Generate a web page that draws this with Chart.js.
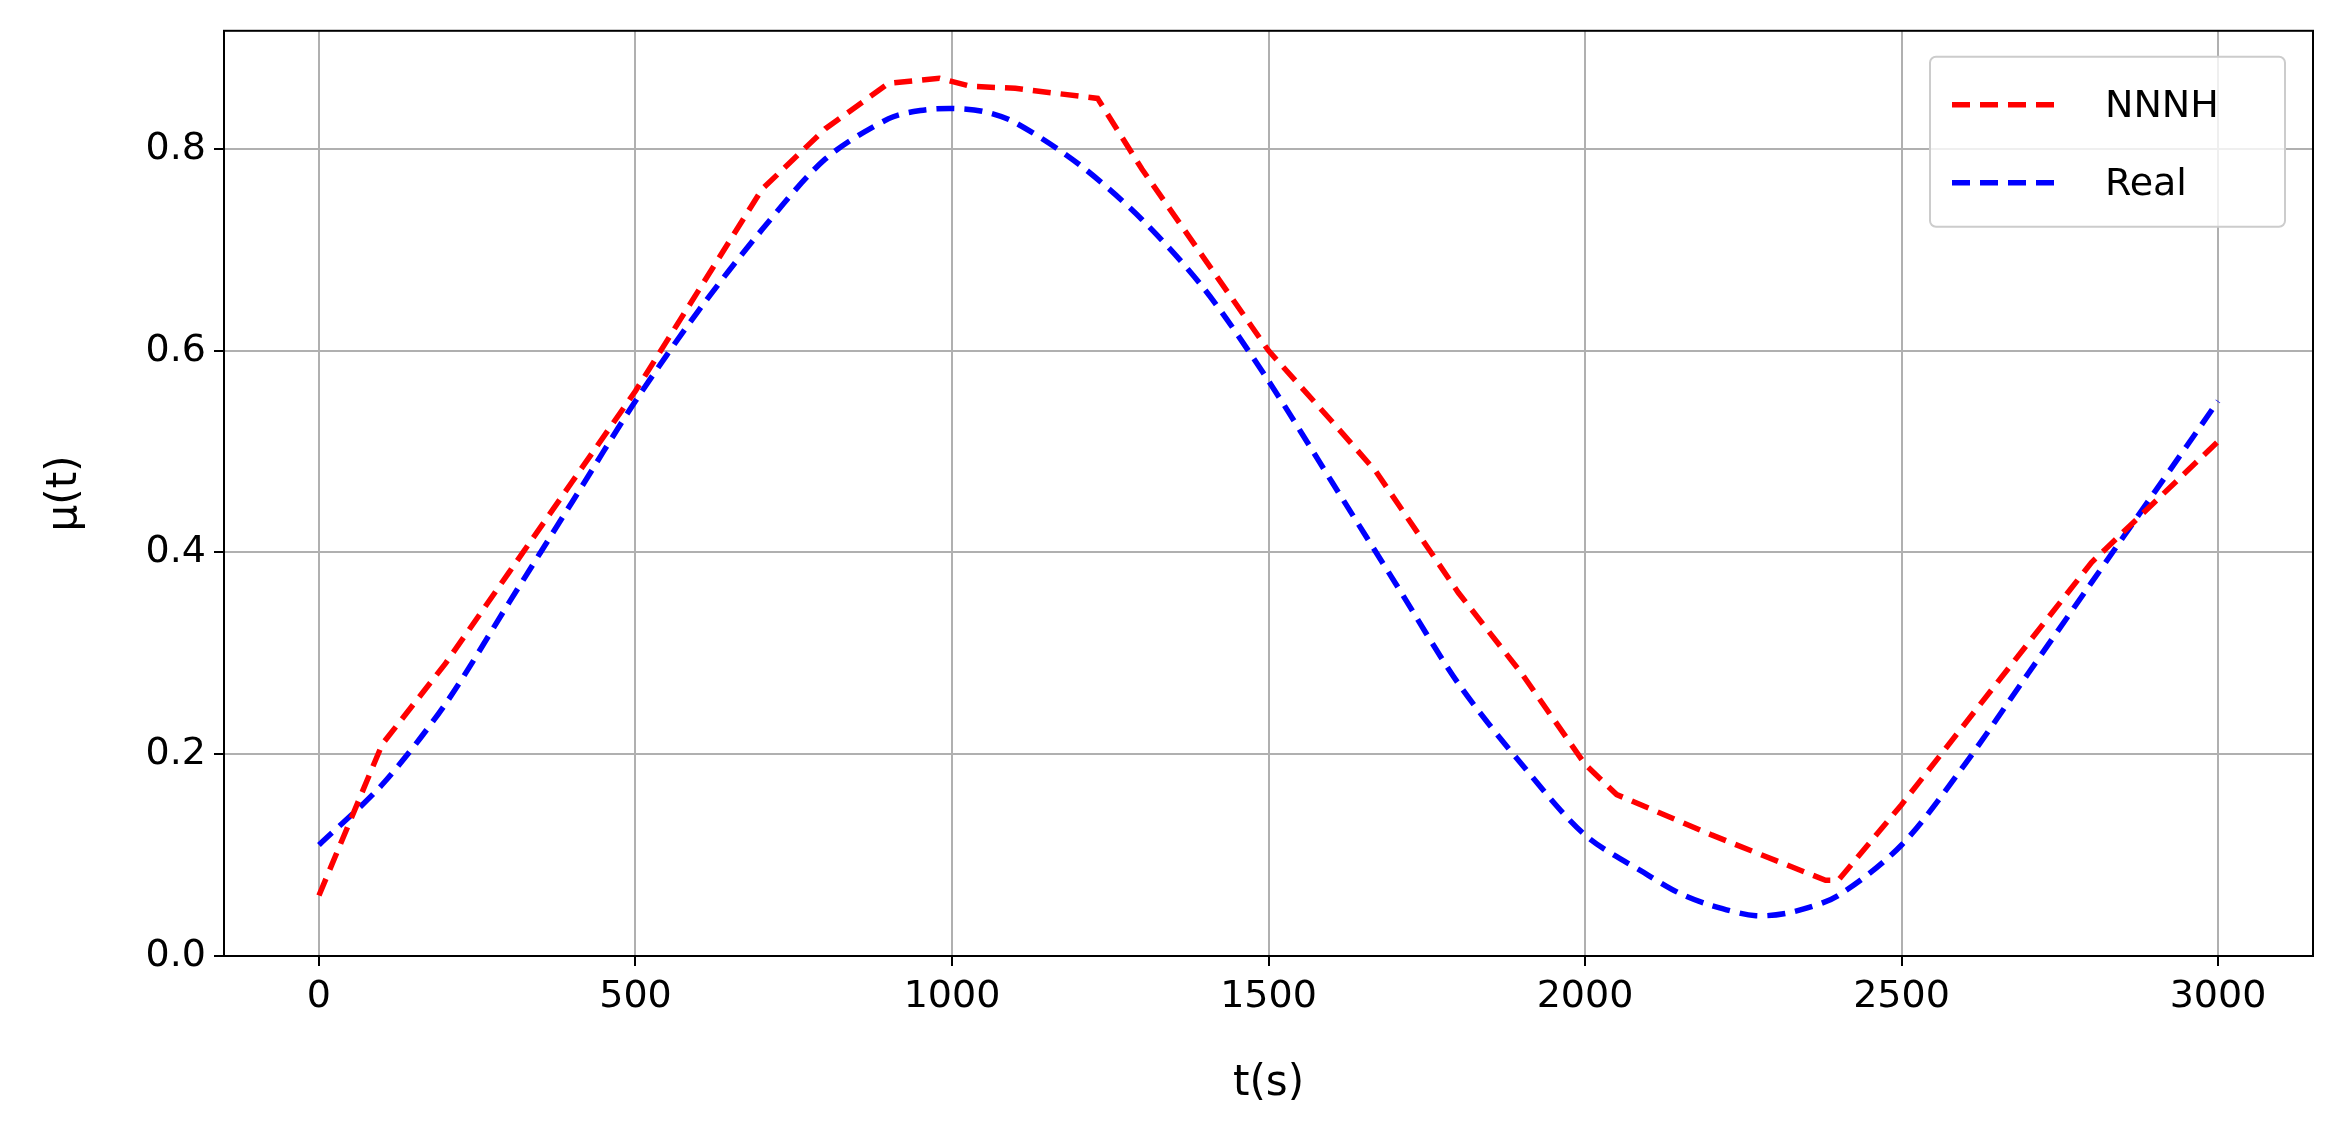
<!DOCTYPE html>
<html><head><meta charset="utf-8">
<script src="https://cdn.jsdelivr.net/npm/chart.js@4/dist/chart.umd.min.js"></script>
<style>body{margin:0;background:#fff}canvas{display:block}</style></head>
<body><canvas id="c" width="2343" height="1143"></canvas>
<script>
const realX = [0,100,200,300,400,500,600,700,800,900,950,1000,1050,1100,1200,1300,1400,1500,1600,1700,1800,1900,2000,2100,2150,2200,2270,2330,2400,2500,2600,2700,2800,2900,3000];
const realY = [0.11,0.17,0.25,0.35,0.45,0.55,0.64,0.72,0.79,0.83,0.838,0.84,0.837,0.826,0.785,0.73,0.66,0.57,0.47,0.37,0.27,0.19,0.12,0.08,0.062,0.05,0.04,0.044,0.06,0.11,0.19,0.28,0.37,0.46,0.55];
const nnnhX = [0,100,200,300,400,500,600,700,800,900,980,1030,1100,1230,1300,1400,1500,1600,1670,1800,1900,2000,2050,2200,2380,2400,2500,2600,2700,2800,2900,3000];
const nnnhY = [0.06,0.21,0.29,0.38,0.47,0.56,0.66,0.76,0.82,0.865,0.87,0.862,0.86,0.85,0.78,0.69,0.60,0.53,0.48,0.36,0.28,0.19,0.16,0.12,0.075,0.075,0.15,0.23,0.31,0.39,0.45,0.51];
const xTicks = [0,500,1000,1500,2000,2500,3000];
const yTicks = [0,0.2,0.4,0.6,0.8];
const labels = ['NNNH','Real'];

const pts = (xs,ys)=>xs.map((x,i)=>({x,y:ys[i]}));
const F = 'DejaVu Sans';
const frame = {id:'frame',afterDraw(c){const a=c.chartArea,x=c.ctx;x.save();x.strokeStyle='#000';x.lineWidth=2;x.strokeRect(a.left,a.top,a.right-a.left,a.bottom-a.top);
 const w=355,h=170,L=a.right-w-28,T=a.top+26;
 x.fillStyle='rgba(255,255,255,0.8)';x.strokeStyle='#ccc';x.lineWidth=2;x.beginPath();x.roundRect(L,T,w,h,6);x.fill();x.stroke();
 c.data.datasets.forEach((d,i)=>{const y=T+48+i*78;x.strokeStyle=d.borderColor;x.lineWidth=5.5;x.setLineDash([18,10]);x.beginPath();x.moveTo(L+22,y);x.lineTo(L+126,y);x.stroke();x.setLineDash([]);
 x.fillStyle='#000';x.font='38px "'+F+'"';x.textBaseline='middle';x.fillText(d.label,L+175,y+2);});
 x.restore();}};
new Chart(document.getElementById('c'),{type:'line',
 data:{datasets:[
  {label:labels[0],data:pts(nnnhX,nnnhY),borderColor:'#ff0000',borderWidth:5.5,borderDash:[18,10],pointRadius:0,tension:0},
  {label:labels[1],data:pts(realX,realY),borderColor:'#0000ff',borderWidth:5.5,borderDash:[18,10],pointRadius:0,tension:0.3}]},
 options:{responsive:false,animation:false,devicePixelRatio:1,layout:{padding:{left:36,right:30,top:28,bottom:0}},
  plugins:{legend:{display:false},tooltip:{enabled:false}},
  scales:{
   x:{type:'linear',min:-150,max:3150,afterBuildTicks:s=>{s.ticks=xTicks.map(v=>({value:v}))},
    afterFit:s=>{s.height=187},
    grid:{color:'#b0b0b0',lineWidth:2,tickLength:10,tickColor:'#000'},border:{display:false},
    ticks:{color:'#000',font:{family:F,size:38},padding:8,maxRotation:0,callback:v=>String(v)},
    title:{display:true,text:'t(s)',color:'#000',font:{family:F,size:42},padding:{top:4,bottom:34}}},
   y:{type:'linear',min:0,max:0.917,afterBuildTicks:s=>{s.ticks=yTicks.map(v=>({value:v}))},
    afterFit:s=>{s.width=188},
    grid:{color:'#b0b0b0',lineWidth:2,tickLength:10,tickColor:'#000'},border:{display:false},
    ticks:{color:'#000',font:{family:F,size:38},padding:8,callback:v=>v.toFixed(1)},
    title:{display:true,text:'μ(t)',color:'#000',font:{family:F,size:42},padding:{bottom:4}}}}},
 plugins:[frame]});
</script></body></html>
